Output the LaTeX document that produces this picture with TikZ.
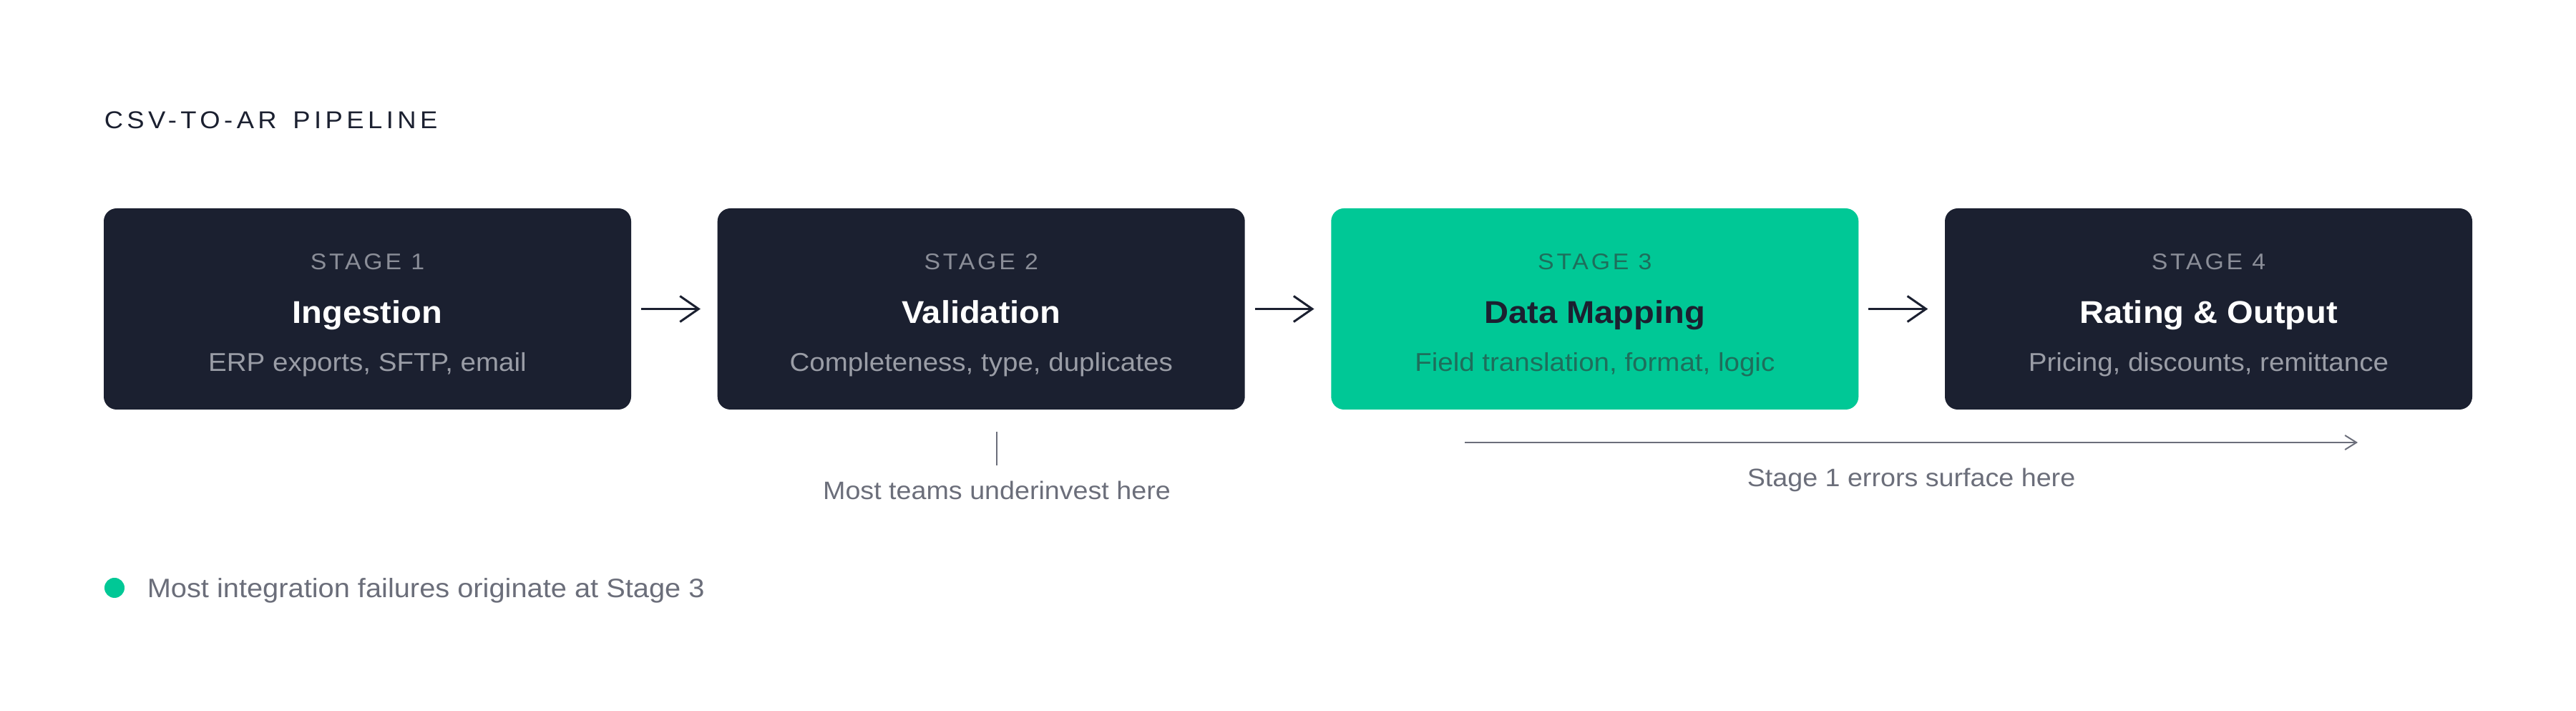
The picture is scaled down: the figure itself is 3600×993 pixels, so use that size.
\documentclass[tikz,border=0pt]{standalone}
\usepackage{fontspec}
\setmainfont{Liberation Sans}[FakeStretch=1.07]
\newfontfamily\titlefont{Liberation Sans}[FakeStretch=1.07,LetterSpace=16]
\newfontfamily\stagefont{Liberation Sans}[FakeStretch=1.07,LetterSpace=12]
\usetikzlibrary{arrows.meta}
\definecolor{ink}{HTML}{1B2030}
\definecolor{mint}{HTML}{00C896}
\definecolor{stagegray}{HTML}{8B8E98}
\definecolor{subgray}{HTML}{9A9DA6}
\definecolor{deepmint}{HTML}{1E6E5B}
\definecolor{notegray}{HTML}{6B6E7A}
\begin{document}
\begin{tikzpicture}[x=0.25pt,y=-0.25pt,
  stagebox/.style={rounded corners=4.5pt, minimum width=184.25pt, minimum height=70.25pt, inner sep=0pt, draw=none},
  stagelbl/.style={anchor=base, inner sep=0pt, font=\stagefont\fontsize{7.9pt}{9pt}\selectfont},
  stagettl/.style={anchor=base, inner sep=0pt, font=\bfseries\fontsize{11pt}{13pt}\selectfont},
  stagesub/.style={anchor=base, inner sep=0pt, font=\fontsize{9pt}{11pt}\selectfont},
  flow/.style={draw=ink, line width=0.75pt, -{Straight Barb[length=6.5pt,width=9pt]}},
  note/.style={anchor=base, inner sep=0pt, text=notegray, font=\fontsize{8.8pt}{10pt}\selectfont},
  thinline/.style={draw=notegray, line width=0.5pt}
]
\useasboundingbox (0,0) rectangle (3600,993);
\fill[white] (0,0) rectangle (3600,993);

% title
\node[anchor=base west, inner sep=0pt, text=ink, font=\titlefont\fontsize{8.5pt}{10pt}\selectfont] (title) at (145,180) {CSV-TO-AR\kern1.8pt\ PIPELINE};

% boxes
\node[stagebox, fill=ink]  (b1) at (513.5,431.5) {};
\node[stagebox, fill=ink]  (b2) at (1371.2,431.5) {};
\node[stagebox, fill=mint] (b3) at (2228.8,431.5) {};
\node[stagebox, fill=ink]  (b4) at (3086.5,431.5) {};

% box texts
\node[stagelbl, text=stagegray] (l1) at (513.5,377) {STAGE 1};
\node[stagettl, text=white]     (t1) at (513.5,452) {Ingestion};
\node[stagesub, text=subgray]   (d1) at (513.5,519) {ERP exports, SFTP, email};

\node[stagelbl, text=stagegray] (l2) at (1371.2,377) {STAGE 2};
\node[stagettl, text=white]     (t2) at (1371.2,452) {Validation};
\node[stagesub, text=subgray]   (d2) at (1371.2,519) {Completeness, type, duplicates};

\node[stagelbl, text=deepmint]  (l3) at (2228.8,377) {STAGE 3};
\node[stagettl, text=ink]       (t3) at (2228.8,452) {Data Mapping};
\node[stagesub, text=deepmint]  (d3) at (2228.8,519) {Field translation, format, logic};

\node[stagelbl, text=stagegray] (l4) at (3086.5,377) {STAGE 4};
\node[stagettl, text=white]     (t4) at (3086.5,452) {Rating \& Output};
\node[stagesub, text=subgray]   (d4) at (3086.5,519) {Pricing, discounts, remittance};

% flow arrows
\draw[flow] ([xshift=3.25pt]b1.east) -- ([xshift=-5.75pt]b2.west);
\draw[flow] ([xshift=3.25pt]b2.east) -- ([xshift=-5.75pt]b3.west);
\draw[flow] ([xshift=3.25pt]b3.east) -- ([xshift=-5.75pt]b4.west);

% annotation under stage 2
\node[note] (n1) at (1393,698) {Most teams underinvest here};
\coordinate (tk1) at (1393,603);
\coordinate (tk2) at (1393,650);
\draw[thinline] (tk1) -- (tk2);

% errors surface arrow
\coordinate (ea) at (2047,618);
\coordinate (eb) at (3295,618);
\draw[thinline, -{Straight Barb[length=4pt,width=5pt]}] (ea) -- (eb);
\node[note] (n2) at (2671,680) {Stage 1 errors surface here};

% legend
\node[circle, fill=mint, minimum size=7pt, inner sep=0pt] (dot) at (160,821) {};
\node[anchor=base west, inner sep=0pt, text=notegray, font=\fontsize{9.3pt}{11pt}\selectfont] (leg) at (205,835) {Most integration failures originate at Stage 3};
\end{tikzpicture}
\end{document}
